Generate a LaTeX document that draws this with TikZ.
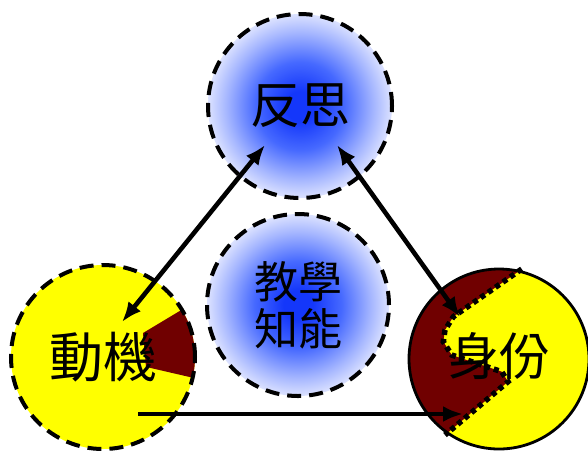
\documentclass[tikz,border=0pt]{standalone}
\usepackage{fontspec}
\newfontfamily\cjk{Noto Sans CJK TC}
\usetikzlibrary{arrows.meta,calc}

\definecolor{glowcore}{RGB}{20,55,250}
\definecolor{glowmid}{RGB}{70,105,255}
\definecolor{glowpale}{RGB}{165,182,255}
\definecolor{glowrim}{RGB}{220,226,255}
\definecolor{sunyellow}{RGB}{255,255,0}
\definecolor{deepred}{RGB}{112,0,0}

% soft blue glow that fades towards white at the rim of the shape
\pgfdeclareradialshading{blueglow}{\pgfpoint{0bp}{0bp}}{%
  color(0bp)=(glowcore); color(4bp)=(glowcore); color(12bp)=(glowmid);
  color(20bp)=(glowpale); color(25bp)=(glowrim); color(50bp)=(white)}

\tikzset{
  ring/.style={circle, inner sep=0pt, minimum size=#1},
  dashring/.style={draw=black, line width=4pt, dash pattern=on 14pt off 8pt},
  glow/.style={shading=blueglow},
  cjklabel/.style={text=black, font=\cjk},
  link/.style={line width=4.6pt, draw=black},
  tip/.style={-{Latex[length=20pt,width=16pt]}},
  twotip/.style={{Latex[length=20pt,width=16pt]}-{Latex[length=20pt,width=16pt]}},
  seam/.style={draw=black, line width=5.5pt, dash pattern=on 5pt off 4pt}
}
% shorthand for a point given relative to the centre of a path picture
\newcommand{\ppc}[2]{($(path picture bounding box.center)+(#1,#2)$)}

\begin{document}
\begin{tikzpicture}[x=1pt,y=-1pt]
\useasboundingbox (0,0) rectangle (588,451);

% reflection (top) and teaching knowledge (middle)
\node[ring=184pt, glow, dashring, cjklabel, font=\cjk\fontsize{50}{54}\selectfont]
  (reflect) at (300,106) {反思};
\node[ring=182pt, glow, dashring, cjklabel, align=center,
      font=\cjk\fontsize{44}{47}\selectfont]
  (know) at (298,305) {教學\\知能};

% motivation (left), with its dark wedge
\node[ring=184pt, fill=sunyellow, dashring,
  path picture={
    \fill[deepred] \ppc{40}{-24} -- \ppc{87}{-52.2} -- \ppc{107}{-57}
      -- \ppc{107}{33} -- \ppc{97}{22.4} -- \ppc{43}{9.9} -- cycle;
  }] (motive) at (103,357) {};
\node[cjklabel, font=\cjk\fontsize{54}{58}\selectfont] (motivetext) at (103,357) {動機};

% identity (right), split by a zigzag seam
\node[ring=180pt, fill=sunyellow, draw=black, line width=2.8pt,
  path picture={
    \fill[deepred] \ppc{36}{-99} -- \ppc{-45.7}{-42.3} -- \ppc{-54}{-29}
      -- \ppc{-55.7}{-17.3} -- \ppc{-47.3}{-4} -- \ppc{2.7}{12.7}
      -- \ppc{9}{22.7} -- \ppc{-54}{76} -- \ppc{-66}{86} -- \ppc{-119}{101}
      -- \ppc{-119}{-109} -- cycle;
  }] (identity) at (499,359) {};
\draw[seam] (521.7,269) -- (453.3,316.7) -- (445,330) -- (443.3,341.7)
  -- (451.7,355) -- (501.7,371.7) -- (508,381.7) -- (445,435);
\node[cjklabel, font=\cjk\fontsize{51}{55}\selectfont] (identitytext) at (499,356) {身份};

% connector end points
\coordinate (mA) at (122,322);
\coordinate (rA) at (265,145);
\coordinate (rB) at (337,145);
\coordinate (iA) at (460,317);
\coordinate (mB) at (138,414);
\coordinate (iB) at (463,414);

\draw[link, twotip] (mA) -- (rA);
\draw[link, twotip] (rB) -- (iA);
\draw[link, tip] (mB) -- (iB);
\end{tikzpicture}
\end{document}
